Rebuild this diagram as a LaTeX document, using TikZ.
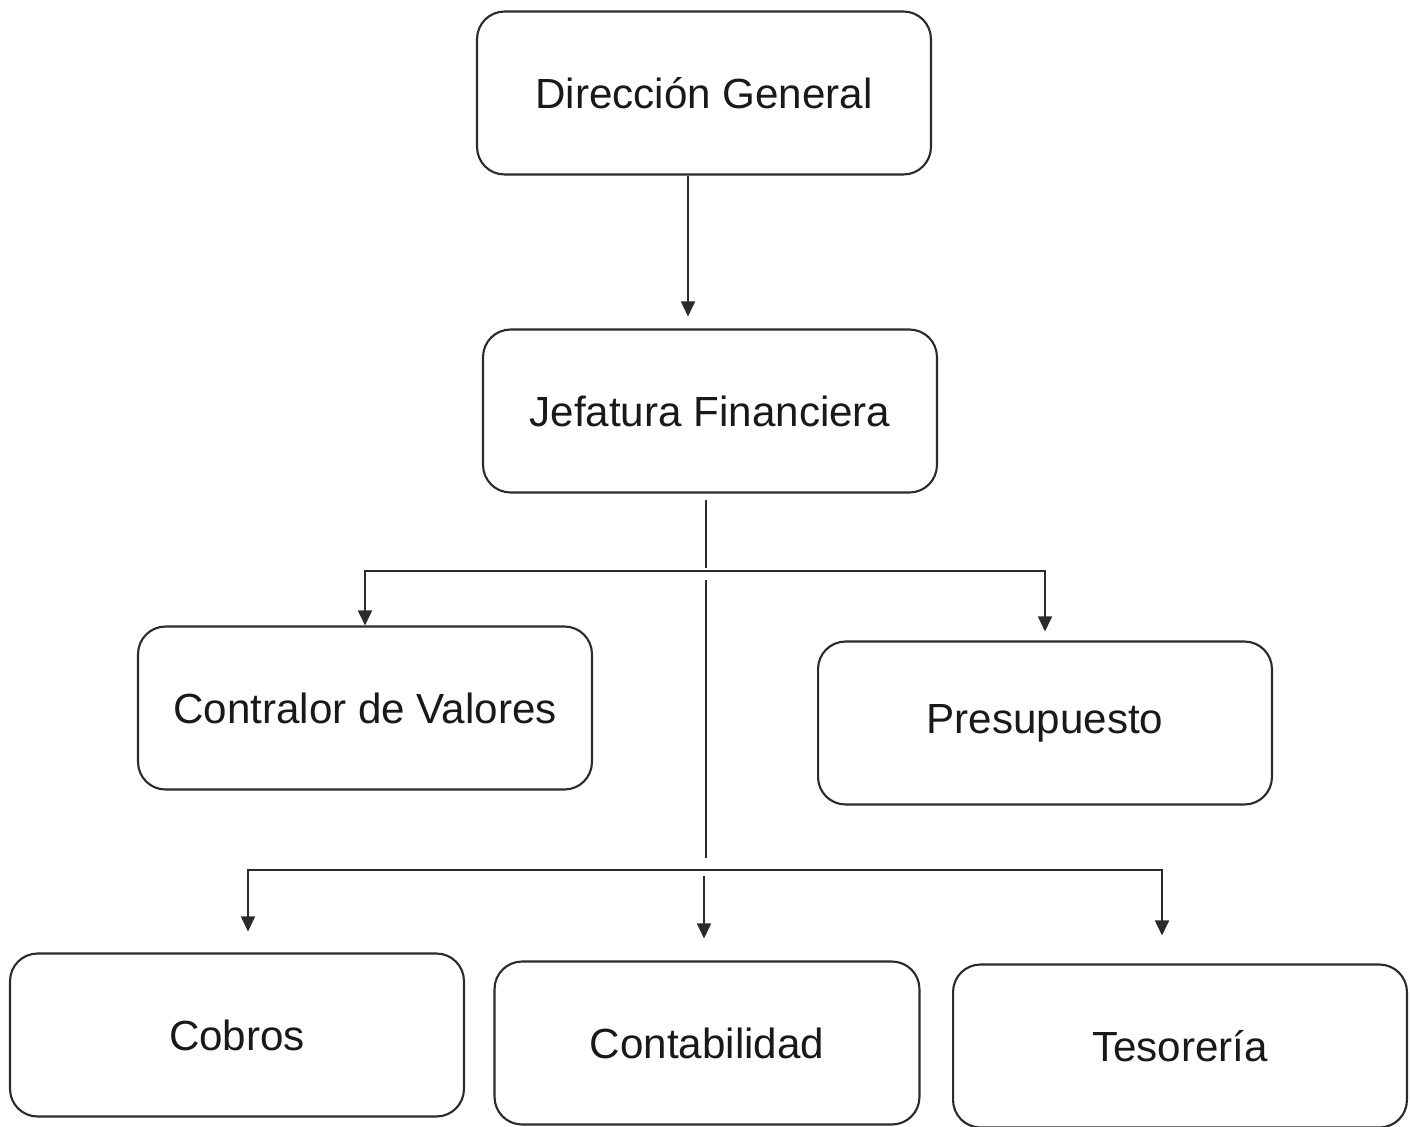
\documentclass[tikz,border=0pt]{standalone}
\usepackage{fontspec}
\setmainfont{Liberation Sans}
\usepackage{tikz}
\usetikzlibrary{calc}
\usetikzlibrary{arrows.meta}
\definecolor{tinta}{HTML}{2b2b2b}
\tikzset{caja/.style={draw=tinta,line width=1.2pt,rounded corners=0.55cm,
    minimum width=9.08cm,minimum height=3.26cm,
    font=\fontsize{24}{28}\selectfont,text=black!90}}
\tikzset{linea/.style={draw=tinta,line width=1pt}}
\tikzset{flecha/.style={linea,-{Triangle[width=0.28cm,length=0.3cm]}}}

\begin{document}
\begin{tikzpicture}[x=0.02cm,y=-0.02cm]
\useasboundingbox (0,0) rectangle (1410,1126);

\node[caja] (dg) at (704,93) {Dirección General};
\node[caja] (jf) at (710,411) {Jefatura Financiera};
\node[caja] (cv) at (365,708) {Contralor de Valores};
\node[caja] (pr) at (1045,723) {Presupuesto};
\node[caja] (co) at (237,1035) {Cobros};
\node[caja,minimum width=8.5cm] (ct) at (707,1043) {Contabilidad};
\node[caja] (te) at (1180,1046) {Tesorería};

\coordinate (t1) at (706,571);
\coordinate (t2) at (706,870);

\draw[flecha] ($(dg.south)+(-16,0)$) -- ($(jf.north)+(-22,-12)$);

\draw[linea] ($(jf.south -| t1)+(0,6)$) -- ($(t1)+(0,-3)$);
\draw[linea] ($(t1)+(0,9)$) -- ($(t2)+(0,-12)$);
\draw[flecha] ($(t2)+(-2,6)$) -- ($(ct.north -| t2)+(-2,-22)$);

\draw[flecha] (t1) -| (cv.north);
\draw[flecha] (t1) -| ($(pr.north)+(0,-9)$);

\draw[flecha] (t2) -| ($(co.north)+(11,-21)$);
\draw[flecha] (t2) -| ($(te.north)+(-18,-28)$);

\end{tikzpicture}
\end{document}
